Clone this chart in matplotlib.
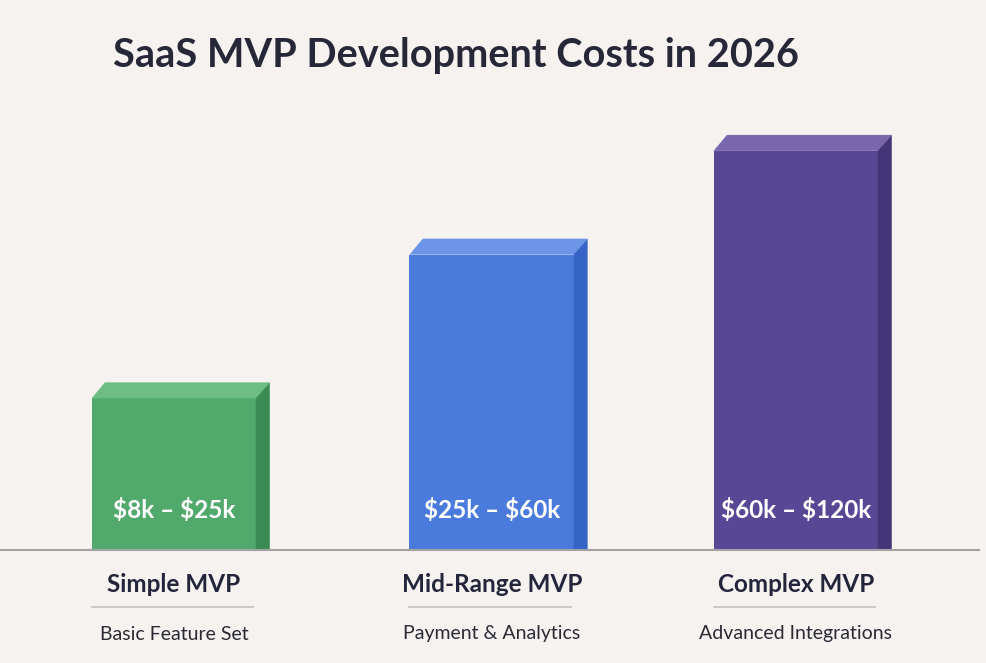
import matplotlib.pyplot as plt
from matplotlib.patches import Polygon
import matplotlib.transforms as mtransforms

# chart data
categories = ["Simple MVP", "Mid-Range MVP", "Complex MVP"]
subtitles = ["Basic Feature Set", "Payment & Analytics", "Advanced Integrations"]
cost_labels = [r"\$8k – \$25k", r"\$25k – \$60k", r"\$60k – \$120k"]
bar_heights = [38, 74, 100]  # relative bar height (index)

front_colors = ["#52a96c", "#4a7bdc", "#574795"]
top_colors = ["#6dbd84", "#6c95e8", "#7868ab"]
side_colors = ["#3b8b55", "#3564c6", "#443578"]

bg = "#f6f2f0"
plt.rcParams["font.family"] = ["Lato", "DejaVu Sans"]

fig = plt.figure(figsize=(9.86, 6.63), dpi=100, facecolor=bg)
ax = fig.add_axes([0, 113 / 663, 1, 550 / 663])
ax.set_facecolor(bg)
ax.set_xlim(-0.5595, 2.611)
ax.set_ylim(0, 137.8)
ax.axis("off")

x = [0, 1.022, 2.0]
width = 0.53
dx, dy = 0.043, 4.0

bars = ax.bar(x, bar_heights, width=width, color=front_colors, lw=0, zorder=3)
for bar, top_c, side_c in zip(bars, top_colors, side_colors):
    x0 = bar.get_x()
    x1 = x0 + bar.get_width()
    h = bar.get_height()
    ax.add_patch(Polygon([(x0, h), (x0 + dx, h + dy), (x1 + dx, h + dy), (x1, h)],
                         closed=True, color=top_c, lw=0, zorder=3))
    ax.add_patch(Polygon([(x1 - 0.002, 0), (x1 - 0.002, h), (x1 + dx, h + dy), (x1 + dx, 0)],
                         closed=True, color=side_c, lw=0, zorder=3))

# baseline
ax.plot([-0.56, 2.59], [0, 0], color="#a3a1a1", lw=1.5, zorder=4, clip_on=False)

# cost labels inside bars
for xi, lab in zip(x, cost_labels):
    ax.text(xi, 10.0, lab, ha="center", va="center", color="white",
            fontsize=17.5, fontweight="bold", zorder=5)

# labels beneath the axis
trans = mtransforms.blended_transform_factory(ax.transData, fig.transFigure)
for xi, cat, sub in zip(x, categories, subtitles):
    ax.text(xi, 1 - 585 / 663, cat, transform=trans, ha="center", va="center",
            fontsize=17.5, fontweight="bold", color="#23253a")
    ax.plot([xi - 0.265, xi + 0.255], [1 - 607 / 663] * 2, transform=trans,
            color="#c4c0c0", lw=1.2, clip_on=False)
    ax.text(xi, 1 - 634 / 663, sub, transform=trans, ha="center", va="center",
            fontsize=14, color="#2a2a35")

fig.text(113 / 986, 1 - 55 / 663, "SaaS MVP Development Costs in 2026",
         ha="left", va="center", fontsize=28.6, fontweight="bold", color="#262838")

fig.savefig("out.png", dpi=100, facecolor=bg)
